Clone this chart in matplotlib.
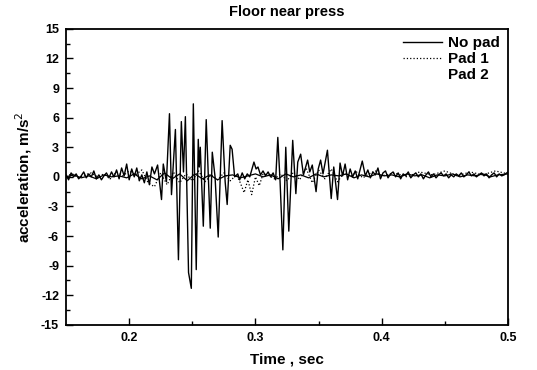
import matplotlib
matplotlib.use("Agg")
import matplotlib.pyplot as plt
from matplotlib.lines import Line2D

# --- data (time in s, acceleration in m/s^2) ---
t_nopad = [0.150, 0.152, 0.154, 0.156, 0.158, 0.160, 0.162, 0.164, 0.166, 0.168,
           0.170, 0.172, 0.174, 0.176, 0.178, 0.180, 0.182, 0.184, 0.186, 0.188,
           0.190, 0.192, 0.194, 0.196, 0.198, 0.200, 0.202, 0.204, 0.206, 0.208,
           0.210, 0.212, 0.214, 0.216, 0.218, 0.220, 0.2225, 0.2256, 0.227, 0.2295,
           0.2319, 0.2335, 0.2366, 0.2390, 0.2413, 0.2430, 0.2445, 0.2470, 0.2492, 0.2508,
           0.2531, 0.2547, 0.2555, 0.2563, 0.2587, 0.2610, 0.2642, 0.2658, 0.2680, 0.2705,
           0.2736, 0.2760, 0.2776, 0.2800, 0.2815, 0.2835, 0.2860, 0.2875, 0.2895, 0.2915,
           0.2935, 0.2955, 0.2988, 0.3005, 0.3020, 0.3040, 0.3060, 0.3080, 0.3100, 0.3120,
           0.3140, 0.3160, 0.3177, 0.3195, 0.3217, 0.3240, 0.3264, 0.3295, 0.3310, 0.3320,
           0.3335, 0.3358, 0.3380, 0.3413, 0.3430, 0.3450, 0.3480, 0.3497, 0.3516, 0.3535,
           0.3570, 0.3600, 0.3620, 0.3650, 0.3670, 0.3690, 0.3710, 0.3730, 0.3750, 0.3770,
           0.3790, 0.3810, 0.3846, 0.3870, 0.3890, 0.3910, 0.3930, 0.3950, 0.3970, 0.3990,
           0.4010, 0.4030, 0.4050, 0.4070, 0.4090, 0.4110, 0.4130, 0.4150, 0.4170, 0.4190,
           0.4210, 0.4230, 0.4250, 0.4270, 0.4290, 0.4310, 0.4330, 0.4350, 0.4370, 0.4390,
           0.4410, 0.4430, 0.4450, 0.4470, 0.4490, 0.4510, 0.4530, 0.4550, 0.4570, 0.4590,
           0.4610, 0.4630, 0.4650, 0.4670, 0.4690, 0.4710, 0.4730, 0.4750, 0.4770, 0.4790,
           0.4810, 0.4830, 0.4850, 0.4870, 0.4890, 0.4910, 0.4930, 0.4950, 0.4970, 0.5000]
a_nopad = [0.2, -0.3, 0.4, 0.0, 0.3, -0.2, 0.1, 0.5, -0.1, 0.3,
           0.0, 0.6, -0.2, 0.2, -0.3, 0.1, 0.4, -0.1, 0.5, 0.0,
           0.7, -0.2, 0.9, 0.1, 1.3, -0.3, 0.8, 0.0, 0.9, -0.4,
           0.2, -0.6, 0.5, -0.8, 1.0, 0.3, 1.2, -2.3, 1.3, -0.5,
           6.4, -1.8, 4.8, -8.4, 5.6, 0.5, 6.1, -9.7, -11.3, 7.4,
           -9.4, 3.8, 1.0, 3.0, -5.0, 5.8, -5.2, 2.5, 0.0, -6.1,
           5.7, -0.5, -2.8, 3.2, 2.8, 0.0, 0.3, -0.3, 0.4, -0.2,
           0.3, 0.0, 1.5, 0.8, 1.0, 0.2, 0.6, 0.1, 0.5, 0.0,
           0.4, -0.3, 4.0, -0.5, -7.4, 3.0, -5.5, 3.7, 0.5, -1.7,
           1.5, 2.3, 0.2, 1.7, 0.5, 1.2, -1.5, 0.8, 1.7, 0.3,
           2.7, -2.2, 1.0, -2.3, 1.4, 0.1, 1.3, -0.3, 0.8, 0.0,
           0.6, -0.2, 1.6, 0.1, 0.7, -0.1, 0.5, 0.2, 0.9, -0.2,
           0.4, 0.6, -0.1, 0.3, 0.5, 0.0, 0.4, -0.2, 0.3, 0.1,
           0.5, -0.1, 0.2, 0.4, 0.0, 0.3, -0.2, 0.2, 0.5, 0.0,
           0.3, -0.1, 0.2, 0.4, 0.1, 0.3, -0.1, 0.2, 0.0, 0.3,
           0.1, 0.4, 0.0, 0.2, 0.5, 0.1, 0.3, 0.0, 0.2, 0.4,
           0.1, 0.3, -0.1, 0.2, 0.4, 0.0, 0.3, 0.1, 0.2, 0.5]

t_pad1 = [0.150, 0.155, 0.160, 0.165, 0.170, 0.175, 0.180, 0.185, 0.190, 0.195,
          0.200, 0.205, 0.210, 0.215, 0.220, 0.225, 0.230, 0.235, 0.240, 0.245,
          0.250, 0.255, 0.260, 0.265, 0.270, 0.275, 0.280, 0.285, 0.288, 0.291,
          0.294, 0.297, 0.300, 0.303, 0.306, 0.310, 0.315, 0.320, 0.325, 0.330,
          0.335, 0.340, 0.345, 0.350, 0.355, 0.360, 0.365, 0.370, 0.375, 0.380,
          0.385, 0.390, 0.395, 0.400, 0.410, 0.420, 0.430, 0.440, 0.450, 0.460,
          0.470, 0.480, 0.490, 0.500]
a_pad1 = [0.1, 0.3, -0.1, 0.2, 0.4, 0.0, 0.3, -0.2, 0.5, 0.1,
          0.6, 0.2, 0.7, -0.6, -1.0, 0.4, -0.8, 0.5, -0.6, 0.3,
          -0.4, 0.6, -0.5, 0.2, -0.3, 0.4, -0.4, 0.2, -0.6, -1.6,
          -0.3, -1.8, 0.0, -0.9, 0.3, 0.2, -0.2, 0.3, -0.4, 0.5,
          -0.3, 0.9, -0.6, 0.7, -0.2, 0.8, -0.5, 0.4, 0.0, 0.5,
          -0.1, 0.3, 0.6, 0.1, 0.4, 0.0, 0.5, 0.2, 0.6, 0.1,
          0.5, 0.2, 0.6, 0.3]

t_pad2 = [0.150, 0.156, 0.162, 0.168, 0.174, 0.180, 0.186, 0.192, 0.198, 0.204,
          0.210, 0.216, 0.222, 0.228, 0.234, 0.240, 0.246, 0.252, 0.258, 0.264,
          0.270, 0.276, 0.282, 0.288, 0.294, 0.300, 0.306, 0.312, 0.318, 0.324,
          0.330, 0.336, 0.342, 0.348, 0.354, 0.360, 0.366, 0.372, 0.378, 0.384,
          0.390, 0.396, 0.402, 0.408, 0.414, 0.420, 0.426, 0.432, 0.438, 0.444,
          0.450, 0.456, 0.462, 0.468, 0.474, 0.480, 0.486, 0.492, 0.500]
a_pad2 = [0.0, 0.2, -0.1, 0.1, -0.2, 0.2, 0.0, 0.1, -0.1, 0.3,
          -0.2, 0.1, -0.3, 0.4, -0.2, 0.3, -0.4, 0.3, -0.2, 0.2,
          -0.3, 0.1, 0.2, -0.1, 0.1, 0.3, 0.0, 0.2, -0.2, 0.3,
          0.0, 0.2, -0.1, 0.3, 0.0, 0.2, 0.1, 0.3, -0.1, 0.2,
          0.0, 0.3, 0.1, 0.2, 0.0, 0.3, 0.1, 0.2, -0.1, 0.2,
          0.1, 0.3, 0.0, 0.2, 0.1, 0.3, 0.0, 0.2, 0.3]

y_ticks = [-15, -12, -9, -6, -3, 0, 3, 6, 9, 12, 15]
x_ticks = [0.2, 0.3, 0.4, 0.5]

plt.rcParams['font.family'] = ['Liberation Sans', 'DejaVu Sans']
plt.rcParams['axes.unicode_minus'] = False

fig = plt.figure(figsize=(5.37, 3.70), dpi=100)
ax = fig.add_axes([0.123, 0.122, 0.823, 0.800])

ax.plot(t_pad2, a_pad2, color='black', lw=0.9)
ax.plot(t_pad1, a_pad1, color='black', lw=0.9, ls=':')
ax.plot(t_nopad, a_nopad, color='black', lw=1.0)

ax.set_xlim(0.15, 0.5)
ax.set_ylim(-15, 15)
ax.set_xticks(x_ticks)
ax.set_xticklabels([str(v) for v in x_ticks])
ax.set_xticks([0.25, 0.35, 0.45], minor=True)
ax.set_yticks(y_ticks)
ax.set_yticklabels([str(v) for v in y_ticks])
ax.set_yticks([v + 1.5 for v in y_ticks[:-1]], minor=True)
ax.tick_params(which='both', direction='in', top=False, right=False,
               labelsize=9, width=1.0)
ax.tick_params(which='major', length=5, pad=5)
ax.tick_params(which='minor', length=3)
for lab in ax.get_xticklabels() + ax.get_yticklabels():
    lab.set_fontweight('bold')
for s in ax.spines.values():
    s.set_linewidth(1.3)

ax.set_title('Floor near press', fontsize=10.5, fontweight='bold', pad=9)
ax.set_xlabel('Time , sec', fontsize=11, fontweight='bold', labelpad=6)
ax.set_ylabel('acceleration, m/s$^2$', fontsize=11, fontweight='bold', labelpad=5)

handles = [Line2D([], [], color='black', lw=1.0),
           Line2D([], [], color='black', lw=0.9, ls=':'),
           Line2D([], [], color='none')]
ax.legend(handles, ['No pad', 'Pad 1', 'Pad 2'], loc='upper right', frameon=False,
          prop={'weight': 'bold', 'size': 11}, handlelength=2.6, handletextpad=0.4,
          labelspacing=0.1, borderaxespad=0.1)

fig.savefig('out.png', dpi=100)
